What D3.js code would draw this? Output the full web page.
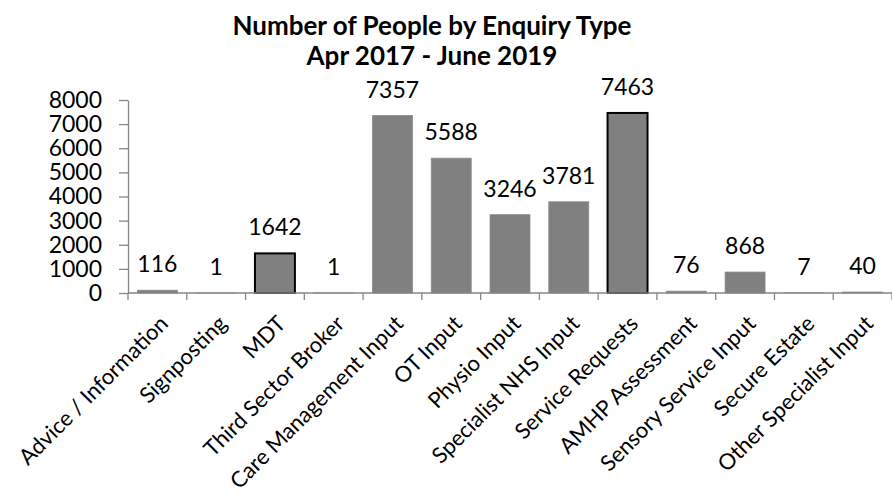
<!DOCTYPE html>
<html>
<head>
<meta charset="utf-8">
<script src="https://cdn.jsdelivr.net/npm/d3@7"></script>
<style>
  html, body { margin: 0; padding: 0; background: #fff; }
  svg { display: block; font-family: "Lato", "Open Sans", sans-serif; }
</style>
</head>
<body>
<div id="chart"></div>
<script>
const titleLines = ["Number of People by Enquiry Type", "Apr 2017 - June 2019"];
const categories = ["Advice / Information", "Signposting", "MDT", "Third Sector Broker",
  "Care Management Input", "OT Input", "Physio Input", "Specialist NHS Input",
  "Service Requests", "AMHP Assessment", "Sensory Service Input", "Secure Estate",
  "Other Specialist Input"];
const values = [116, 1, 1642, 1, 7357, 5588, 3246, 3781, 7463, 76, 868, 7, 40];
const outlinedCategories = ["MDT", "Service Requests"];
const yTickValues = [0, 1000, 2000, 3000, 4000, 5000, 6000, 7000, 8000];

const W = 892, H = 498;
const margin = { top: 100, right: 0, bottom: 205, left: 128 };

const svg = d3.select("#chart").append("svg").attr("width", W).attr("height", H);

const x = d3.scaleBand().domain(categories)
  .range([margin.left, W - margin.right])
  .paddingInner(0.32).paddingOuter(0.16);
const y = d3.scaleLinear().domain([0, 8000]).range([H - margin.bottom, margin.top]);

const axisColor = "#868686";
const fontFam = "Lato, 'Open Sans', sans-serif";

// Title
const title = svg.append("text").attr("text-anchor", "middle")
  .attr("font-weight", "bold").attr("font-size", 26).attr("fill", "#000");
title.selectAll("tspan").data(titleLines).join("tspan")
  .attr("x", 432).attr("y", (d, i) => 35 + i * 30).text(d => d);

// Y axis
const yAxis = svg.append("g").attr("transform", `translate(${margin.left},0)`)
  .call(d3.axisLeft(y).tickValues(yTickValues).tickFormat(d3.format("d"))
    .tickSize(9).tickSizeOuter(0).tickPadding(17));
yAxis.select(".domain").attr("stroke", axisColor).attr("stroke-width", 1.3);
yAxis.selectAll(".tick line").attr("stroke", axisColor).attr("stroke-width", 1.3);
yAxis.selectAll(".tick text").attr("font-size", 23).attr("fill", "#000")
  .attr("font-family", fontFam);

// Bars
svg.append("g").selectAll("rect").data(categories).join("rect")
  .attr("x", d => x(d))
  .attr("width", x.bandwidth())
  .attr("y", (d, i) => y(values[i]))
  .attr("height", (d, i) => y(0) - y(values[i]))
  .attr("fill", "#808080")
  .attr("stroke", d => outlinedCategories.includes(d) ? "#000" : "#8a8a8a")
  .attr("stroke-width", d => outlinedCategories.includes(d) ? 2 : 0.8);

// X axis line and boundary ticks
const step = x.step();
const gap = (step - x.bandwidth()) / 2;
const boundaries = categories.map(c => x(c) - gap).concat([x(categories[categories.length - 1]) + x.bandwidth() + gap]);
const xg = svg.append("g");
xg.append("line").attr("x1", margin.left).attr("x2", W - margin.right)
  .attr("y1", y(0)).attr("y2", y(0)).attr("stroke", axisColor).attr("stroke-width", 1.5);
xg.selectAll("line.tick").data(boundaries).join("line").attr("class", "tick")
  .attr("x1", d => d).attr("x2", d => d)
  .attr("y1", y(0)).attr("y2", y(0) + 7)
  .attr("stroke", axisColor).attr("stroke-width", 1.3);

// Value labels
svg.append("g").selectAll("text").data(categories).join("text")
  .attr("x", d => x(d) + x.bandwidth() / 2)
  .attr("y", (d, i) => y(values[i]) - 18)
  .attr("text-anchor", "middle").attr("font-size", 23).attr("fill", "#000")
  .text((d, i) => values[i]);

// Category labels
svg.append("g").selectAll("text").data(categories).join("text")
  .attr("transform", d => `translate(${x(d) + x.bandwidth() / 2 + 12},${y(0) + 32}) rotate(-45)`)
  .attr("text-anchor", "end").attr("font-size", 22).attr("fill", "#000")
  .text(d => d);
</script>
</body>
</html>
